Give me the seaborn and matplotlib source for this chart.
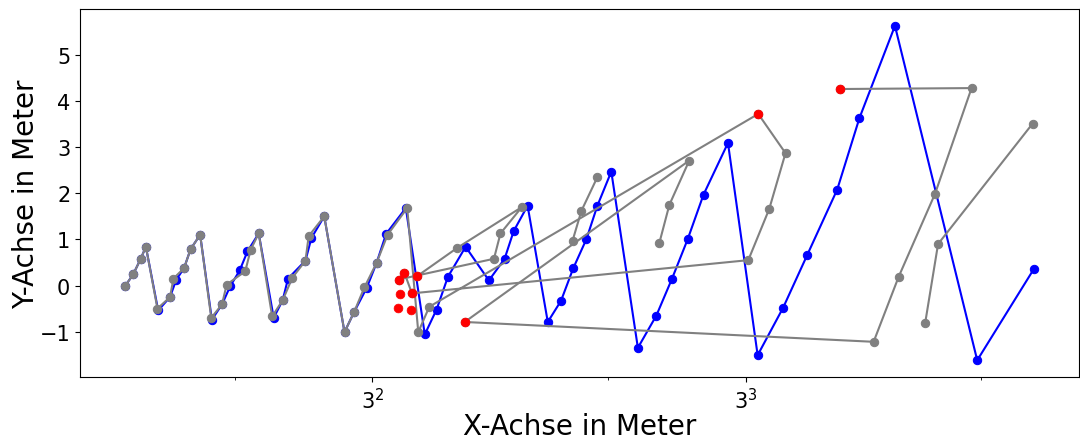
import matplotlib
matplotlib.use("Agg")
import matplotlib.pyplot as plt
import pandas as pd
import seaborn as sns

# Blue measurement track (sorted along x)
blue_x = [4.35, 4.45, 4.55, 4.62, 4.79, 4.96, 5.05, 5.17, 5.27, 5.42,
          5.61, 5.78, 5.92, 6.09, 6.23, 6.44, 6.73, 6.91, 7.02, 7.39,
          7.52, 7.81, 8.29, 8.53, 8.85, 9.11, 9.37, 9.93, 10.50, 10.87,
          11.24, 11.84, 12.68, 13.28, 13.64, 14.21, 15.08, 15.68, 16.25, 16.90,
          17.45, 18.18, 19.66, 20.76, 21.74, 22.76, 23.85, 25.63, 27.97, 30.15,
          32.38, 35.35, 37.74, 41.90, 53.38, 63.02]
blue_y = [0.00, 0.24, 0.58, 0.84, -0.54, -0.25, 0.12, 0.38, 0.79, 1.10,
          -0.74, -0.41, -0.02, 0.33, 0.74, 1.13, -0.70, -0.32, 0.15, 0.54,
          1.03, 1.50, -1.01, -0.57, -0.05, 0.49, 1.12, 1.68, -1.06, -0.52,
          0.19, 0.84, 0.11, 0.58, 1.18, 1.73, -0.79, -0.33, 0.37, 1.01,
          1.73, 2.47, -1.35, -0.65, 0.15, 1.00, 1.97, 3.09, -1.51, -0.48,
          0.67, 2.08, 3.63, 5.63, -1.62, 0.35]

# Gray track, split into its connected runs
gray_run = (["a"] * 36 + ["b"] * 9 + ["c"] * 3 + ["d"] * 6 + ["e"] * 3)
gray_x = [4.35, 4.45, 4.55, 4.62, 4.78, 4.96, 5.01, 5.17, 5.27, 5.42,
          5.60, 5.78, 5.86, 6.19, 6.29, 6.44, 6.70, 6.91, 7.11, 7.39,
          7.46, 7.81, 8.29, 8.53, 8.79, 9.11, 9.41, 9.97, 10.30, 10.64,
          28.02, 30.36, 28.94, 27.21, 10.11, 9.89,
          20.94, 21.57, 22.87, 11.81, 39.35, 42.36, 47.15, 52.50, 35.66,
          45.79, 47.57, 62.83,
          10.26, 11.56, 13.97, 13.12, 12.87, 9.72,
          16.22, 16.65, 17.45]
gray_y = [0.00, 0.24, 0.58, 0.84, -0.50, -0.25, 0.15, 0.38, 0.79, 1.10,
          -0.70, -0.41, 0.02, 0.31, 0.78, 1.13, -0.67, -0.32, 0.17, 0.54,
          1.07, 1.50, -1.01, -0.57, -0.04, 0.49, 1.10, 1.68, -1.01, -0.46,
          3.72, 2.87, 1.66, 0.55, -0.17, 0.27,
          0.92, 1.75, 2.71, -0.79, -1.22, 0.19, 1.99, 4.28, 4.26,
          -0.82, 0.90, 3.51,
          0.20, 0.82, 1.70, 1.13, 0.58, 0.13,
          0.97, 1.62, 2.35]

# Highlighted points
red_x = [9.72, 9.89, 10.26, 9.76, 10.11, 9.69, 10.08, 11.81, 28.02, 35.66]
red_y = [0.13, 0.27, 0.20, -0.18, -0.17, -0.48, -0.54, -0.79, 3.72, 4.26]

fig = plt.figure(figsize=(10.8, 4.39), dpi=100)
ax = fig.add_axes([0.0741, 0.139, 0.925, 0.838])

sns.lineplot(x=blue_x, y=blue_y, sort=False, estimator=None, color="blue",
             marker="o", markersize=6, markeredgecolor="blue", linewidth=1.5, ax=ax)

gray_df = pd.DataFrame({"x": gray_x, "y": gray_y, "run": gray_run})
sns.lineplot(data=gray_df, x="x", y="y", units="run", sort=False, estimator=None,
             color="gray", marker="o", markersize=6, markeredgecolor="gray",
             linewidth=1.5, ax=ax)

sns.scatterplot(x=red_x, y=red_y, color="red", s=40, edgecolor="red",
                linewidth=0.5, zorder=5, ax=ax)

ax.set_xscale("log", base=3)
ax.set_xlabel("X-Achse in Meter", fontsize=20, labelpad=0)
ax.set_ylabel("Y-Achse in Meter", fontsize=20, labelpad=0)
ax.tick_params(axis="both", labelsize=15)

fig.savefig("out.png", dpi=100)
